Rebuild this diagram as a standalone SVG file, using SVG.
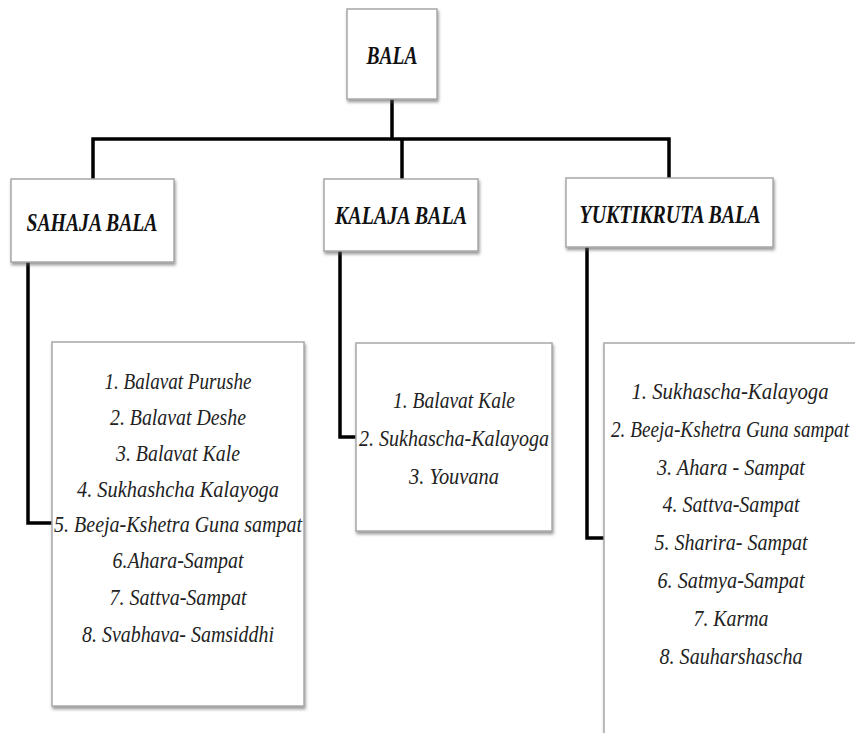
<svg xmlns="http://www.w3.org/2000/svg" width="855" height="733" viewBox="0 0 855 733">
<defs>
<filter id="sh" x="-10%" y="-10%" width="130%" height="130%">
<feDropShadow dx="1" dy="2.5" stdDeviation="1.5" flood-color="#555" flood-opacity="0.6"/>
</filter>
<style>
.box{fill:#fff;stroke:#a8a8a8;stroke-width:1.5;filter:url(#sh)}
.hd{font-family:"Liberation Serif","Times New Roman",serif;font-style:italic;font-weight:bold;font-size:25px;fill:#111;text-anchor:middle}
.it{font-family:"Liberation Serif","Times New Roman",serif;font-style:italic;font-size:23px;fill:#222;text-anchor:middle}
.con{fill:none;stroke:#000;stroke-width:3.5;stroke-linejoin:miter;stroke-linecap:butt}
</style>
</defs>
<rect width="855" height="733" fill="#fff"/>
<g id="connectors">
<path class="con" d="M392 99 V139"/>
<path class="con" d="M93 179 V139 H669 V178"/>
<path class="con" d="M402 139 V179"/>
<path class="con" d="M28 262 V523 H52"/>
<path class="con" d="M340 251 V437 H356"/>
<path class="con" d="M587 247 V538 H604"/>
</g>
<g id="bala">
<rect class="box" x="347" y="9" width="90" height="90"/>
<text class="hd" x="392" y="64" textLength="51" lengthAdjust="spacingAndGlyphs">BALA</text>
</g>
<g id="sahaja-bala">
<rect class="box" x="11" y="179" width="163" height="83"/>
<text class="hd" x="92" y="231" textLength="131" lengthAdjust="spacingAndGlyphs">SAHAJA BALA</text>
</g>
<g id="kalaja-bala">
<rect class="box" x="324" y="179" width="154" height="72"/>
<text class="hd" x="401" y="224" textLength="132" lengthAdjust="spacingAndGlyphs">KALAJA BALA</text>
</g>
<g id="yuktikruta-bala">
<rect class="box" x="566" y="178" width="207" height="69"/>
<text class="hd" x="670" y="223" textLength="181" lengthAdjust="spacingAndGlyphs">YUKTIKRUTA BALA</text>
</g>
<g id="sahaja-list">
<rect class="box" x="52" y="342" width="252" height="364"/>
<text class="it" x="178" y="389" textLength="147" lengthAdjust="spacingAndGlyphs">1. Balavat Purushe</text>
<text class="it" x="178" y="425" textLength="136" lengthAdjust="spacingAndGlyphs">2. Balavat Deshe</text>
<text class="it" x="178" y="461" textLength="124" lengthAdjust="spacingAndGlyphs">3. Balavat Kale</text>
<text class="it" x="178" y="497" textLength="202" lengthAdjust="spacingAndGlyphs">4. Sukhashcha  Kalayoga</text>
<text class="it" x="178" y="532" textLength="248" lengthAdjust="spacingAndGlyphs">5. Beeja-Kshetra Guna sampat</text>
<text class="it" x="178" y="568" textLength="131" lengthAdjust="spacingAndGlyphs">6.Ahara-Sampat</text>
<text class="it" x="178" y="605" textLength="137" lengthAdjust="spacingAndGlyphs">7. Sattva-Sampat</text>
<text class="it" x="178" y="642" textLength="192" lengthAdjust="spacingAndGlyphs">8. Svabhava- Samsiddhi</text>
</g>
<g id="kalaja-list">
<rect class="box" x="356" y="343" width="196" height="188"/>
<text class="it" x="454" y="408" textLength="122" lengthAdjust="spacingAndGlyphs">1. Balavat Kale</text>
<text class="it" x="454" y="446" textLength="190" lengthAdjust="spacingAndGlyphs">2. Sukhascha-Kalayoga</text>
<text class="it" x="454" y="484" textLength="90" lengthAdjust="spacingAndGlyphs">3. Youvana</text>
</g>
<g id="yuktikruta-list">
<rect class="box" x="604" y="343" width="260" height="400"/>
<text class="it" x="730" y="399" textLength="197" lengthAdjust="spacingAndGlyphs">1.  Sukhascha-Kalayoga</text>
<text class="it" x="730" y="437" textLength="238" lengthAdjust="spacingAndGlyphs">2. Beeja-Kshetra Guna sampat</text>
<text class="it" x="731" y="475" textLength="148" lengthAdjust="spacingAndGlyphs">3. Ahara - Sampat</text>
<text class="it" x="731" y="512" textLength="137" lengthAdjust="spacingAndGlyphs">4. Sattva-Sampat</text>
<text class="it" x="731" y="550" textLength="153" lengthAdjust="spacingAndGlyphs">5. Sharira- Sampat</text>
<text class="it" x="731" y="588" textLength="147" lengthAdjust="spacingAndGlyphs">6. Satmya-Sampat</text>
<text class="it" x="731" y="626" textLength="75" lengthAdjust="spacingAndGlyphs">7. Karma</text>
<text class="it" x="731" y="664" textLength="143" lengthAdjust="spacingAndGlyphs">8. Sauharshascha</text>
</g>
</svg>
